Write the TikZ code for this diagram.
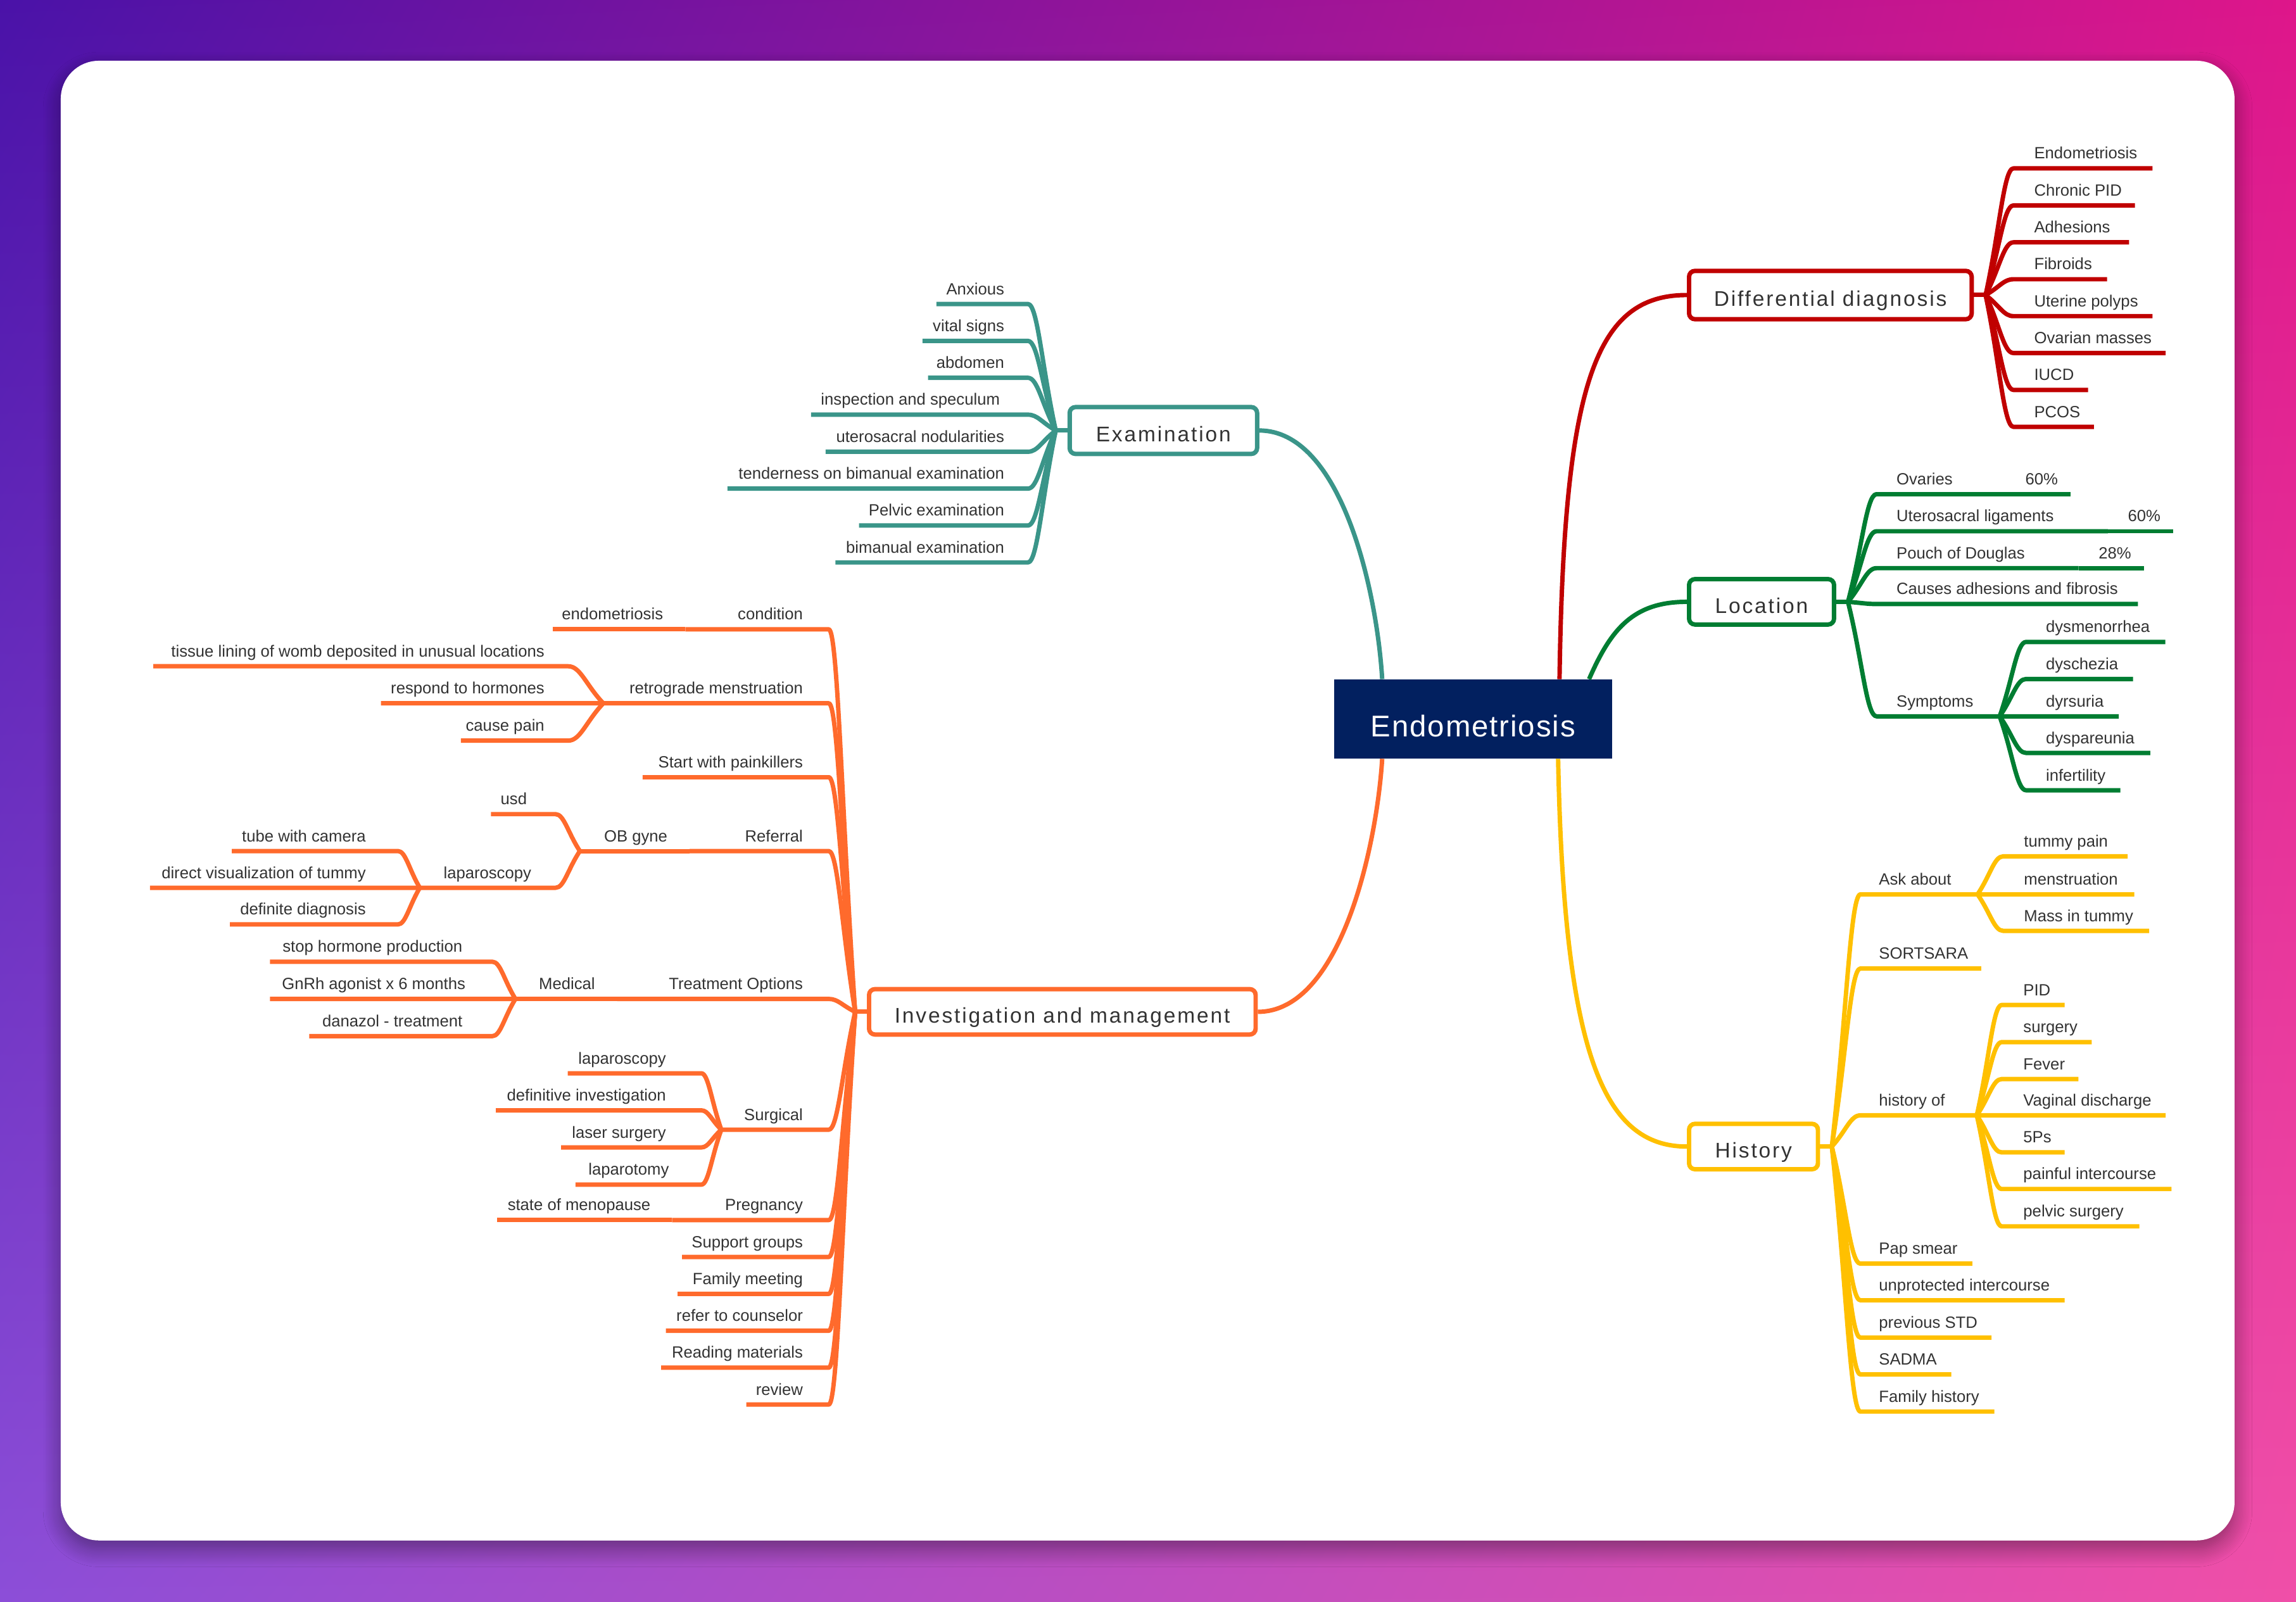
\documentclass[tikz,border=0pt]{standalone}
\usepackage{fontspec}
\setmainfont{Liberation Sans}
\newfontfamily\brfont[LetterSpace=8.5]{Liberation Sans}
\newfontfamily\rootfont[LetterSpace=4]{Liberation Sans}
\usetikzlibrary{calc,shadings,shadows.blur}
\definecolor{cteal}{HTML}{3A9589}
\definecolor{cred}{HTML}{C00000}
\definecolor{cgreen}{HTML}{007D32}
\definecolor{cyel}{HTML}{FFC000}
\definecolor{corg}{HTML}{FF6A2C}
\definecolor{cnavy}{HTML}{02205F}
\definecolor{ctext}{HTML}{333333}
\definecolor{bgUL}{HTML}{4A12A8}
\definecolor{bgUR}{HTML}{DE168A}
\definecolor{bgLL}{HTML}{8C4ED8}
\definecolor{bgLR}{HTML}{F04FA8}
\newcommand\rleaf[8]{%
  \coordinate (#1C) at (#4,#5);
  \coordinate (#1E) at (#6,#5);
  \node[leaf,anchor=base west] (#1) at (#7,#5-6.5) {#8};
  \draw[#2] (#3) to[branch] (#1C) -- (#1E);
}
\newcommand\lleaf[8]{%
  \coordinate (#1C) at (#4,#5);
  \coordinate (#1E) at (#6,#5);
  \node[leaf,anchor=base east] (#1) at (#7,#5-6.5) {#8};
  \draw[#2] (#3) to[branch] (#1C) -- (#1E);
}
\begin{document}
\begin{tikzpicture}[x=1pt,y=-1pt,
  leaf/.style={inner sep=0pt,font=\fontsize{11.1}{13}\selectfont,text=ctext},
  mainbox/.style={line width=3,rounded corners=4,fill=white,inner sep=0pt,
    text height=15.4pt,text depth=0pt,
    font=\brfont\fontsize{14.5}{17}\selectfont,text=ctext},
  conn/.style={line width=3,line join=round},
  lteal/.style={conn,cteal},
  lred/.style={conn,cred},
  lgreen/.style={conn,cgreen},
  lyel/.style={conn,cyel},
  lorg/.style={conn,corg},
  branch/.style={to path={.. controls ($(\tikztostart)!0.5!(\tikztotarget)$) and ($(\tikztotarget)!0.35!(\tikztotarget-|\tikztostart)$) .. (\tikztotarget) \tikztonodes}}]
\useasboundingbox (0,0) rectangle (1568,1094);
\shade[upper left=bgUL,upper right=bgUR,lower left=bgLL,lower right=bgLR] (0,0) rectangle (1568,1094);
\fill[white,rounded corners=26,blur shadow={shadow blur steps=12,shadow xshift=0pt,shadow yshift=-6pt,shadow blur radius=12pt,shadow opacity=40}] (41.5,41.5) rectangle (1526,1052);

% root and main boxes
\node[fill=cnavy,minimum width=190,minimum height=54,inner sep=0pt,text=white,
  text height=24pt,text depth=0pt,
  font=\rootfont\fontsize{20.5}{24}\selectfont] (root) at (1006,491) {Endometriosis};
\node[mainbox,draw=cteal,minimum width=128,minimum height=32] (ex) at (794.5,294) {Examination};
\node[mainbox,draw=corg,minimum width=264,minimum height=31] (inv) at (725.5,691) {Investigation and management};
\node[mainbox,draw=cred,minimum width=193,minimum height=33] (dd) at (1250,201.5) {Differential diagnosis};
\node[mainbox,draw=cgreen,minimum width=99,minimum height=31] (loc) at (1203,411) {Location};
\node[mainbox,draw=cyel,minimum width=88,minimum height=31] (his) at (1197.5,783) {History};

\draw[lteal] (ex.east) .. controls (915,294) and (940,400) .. ($(root.north west)!0.174!(root.north east)$);
\draw[lorg] (inv.east) .. controls (915,691) and (940,580) .. ($(root.south west)!0.174!(root.south east)$);
\draw[lred] ($(root.north west)!0.81!(root.north east)$) .. controls (1068,260) and (1090,201.5) .. (dd.west);
\draw[lgreen] ($(root.north west)!0.916!(root.north east)$) .. controls (1100,430) and (1115,411) .. (loc.west);
\draw[lyel] ($(root.south west)!0.805!(root.south east)$) .. controls (1068,720) and (1095,783) .. (his.west);

\coordinate (Jex) at (721,294);
\coordinate (Jinv) at (584,691);
\coordinate (Jdd) at (1356,201.5);
\coordinate (Jloc) at (1262,411);
\coordinate (Jhis) at (1251,783);
\draw[lteal] (ex.west) -- (Jex);
\draw[lorg] (inv.west) -- (Jinv);
\draw[lred] (dd.east) -- (Jdd);
\draw[lgreen] (loc.east) -- (Jloc);
\draw[lyel] (his.east) -- (Jhis);

% Examination
\lleaf{ea}{lteal}{Jex}{702}{207.6}{639.5}{686}{Anxious}
\lleaf{eb}{lteal}{Jex}{702}{232.8}{630}{686}{vital signs}
\lleaf{ec}{lteal}{Jex}{702}{258}{633.8}{686}{abdomen}
\lleaf{ed}{lteal}{Jex}{702}{283.2}{553.9}{683}{inspection and speculum}
\lleaf{ee}{lteal}{Jex}{702}{308.5}{563.8}{686}{uterosacral nodularities}
\lleaf{ef}{lteal}{Jex}{702}{333.7}{496.8}{686}{tenderness on bimanual examination}
\lleaf{eg}{lteal}{Jex}{702}{358.9}{586.6}{686}{Pelvic examination}
\lleaf{eh}{lteal}{Jex}{702}{384.1}{570.5}{686}{bimanual examination}

% Differential diagnosis
\rleaf{da}{lred}{Jdd}{1375}{115}{1470}{1389}{Endometriosis}
\rleaf{db}{lred}{Jdd}{1375}{140.3}{1458}{1389}{Chronic PID}
\rleaf{dc}{lred}{Jdd}{1375}{165.5}{1454}{1389}{Adhesions}
\rleaf{dd}{lred}{Jdd}{1375}{190.7}{1439}{1389}{Fibroids}
\rleaf{de}{lred}{Jdd}{1375}{215.9}{1470}{1389}{Uterine polyps}
\rleaf{df}{lred}{Jdd}{1375}{241.1}{1479}{1389}{Ovarian masses}
\rleaf{dg}{lred}{Jdd}{1375}{266.3}{1426}{1389}{IUCD}
\rleaf{dh}{lred}{Jdd}{1375}{291.5}{1430}{1389}{PCOS}

% Location
\rleaf{la}{lgreen}{Jloc}{1281.5}{337.5}{1369.5}{1295}{Ovaries}
\rleaf{laa}{lgreen}{laE}{1372}{337.5}{1414}{1383}{60\%}
\rleaf{lb}{lgreen}{Jloc}{1281.5}{362.8}{1439.5}{1295}{Uterosacral ligaments}
\rleaf{lba}{lgreen}{lbE}{1442}{362.8}{1484}{1453}{60\%}
\rleaf{lc}{lgreen}{Jloc}{1281.5}{388}{1419.5}{1295}{Pouch of Douglas}
\rleaf{lca}{lgreen}{lcE}{1422}{388}{1464}{1433}{28\%}
\rleaf{ld}{lgreen}{Jloc}{1281.5}{412.5}{1460}{1295}{Causes adhesions and fibrosis}
\rleaf{le}{lgreen}{Jloc}{1281.5}{489.2}{1365.6}{1295}{Symptoms}
\rleaf{lea}{lgreen}{leE}{1383.6}{438.4}{1478.7}{1397}{dysmenorrhea}
\rleaf{leb}{lgreen}{leE}{1383.6}{463.7}{1456.7}{1397}{dyschezia}
\rleaf{lec}{lgreen}{leE}{1383.6}{489.2}{1447}{1397}{dyrsuria}
\rleaf{led}{lgreen}{leE}{1383.6}{514.2}{1468.5}{1397}{dyspareunia}
\rleaf{lee}{lgreen}{leE}{1383.6}{539.7}{1448}{1397}{infertility}

% History
\rleaf{ha}{lyel}{Jhis}{1270.5}{610.8}{1350.5}{1283}{Ask about}
\rleaf{haa}{lyel}{haE}{1368}{584.8}{1453}{1382}{tummy pain}
\rleaf{hab}{lyel}{haE}{1368}{610.8}{1457.5}{1382}{menstruation}
\rleaf{hac}{lyel}{haE}{1368}{635.7}{1467.7}{1382}{Mass in tummy}
\rleaf{hb}{lyel}{Jhis}{1270.5}{661.4}{1353}{1283}{SORTSARA}
\rleaf{hc}{lyel}{Jhis}{1270.5}{761.7}{1350}{1283}{history of}
\rleaf{hca}{lyel}{hcE}{1367}{686.3}{1410}{1381.6}{PID}
\rleaf{hcb}{lyel}{hcE}{1367}{711.7}{1428.5}{1381.6}{surgery}
\rleaf{hcc}{lyel}{hcE}{1367}{736.9}{1419.4}{1381.6}{Fever}
\rleaf{hcd}{lyel}{hcE}{1367}{761.7}{1479}{1381.6}{Vaginal discharge}
\rleaf{hce}{lyel}{hcE}{1367}{787}{1410}{1381.6}{5Ps}
\rleaf{hcf}{lyel}{hcE}{1367}{812}{1483}{1381.6}{painful intercourse}
\rleaf{hcg}{lyel}{hcE}{1367}{837.5}{1461}{1381.6}{pelvic surgery}
\rleaf{hd}{lyel}{Jhis}{1270.5}{863}{1347}{1283}{Pap smear}
\rleaf{he}{lyel}{Jhis}{1270.5}{888}{1410}{1283}{unprotected intercourse}
\rleaf{hf}{lyel}{Jhis}{1270.5}{913.5}{1360}{1283}{previous STD}
\rleaf{hg}{lyel}{Jhis}{1270.5}{938.6}{1332.6}{1283}{SADMA}
\rleaf{hh}{lyel}{Jhis}{1270.5}{964}{1362}{1283}{Family history}

% Investigation and management
\lleaf{ia}{lorg}{Jinv}{566}{429.8}{468}{548.5}{condition}
\lleaf{iaa}{lorg}{iaE}{466}{429.8}{377.6}{453}{endometriosis}
\lleaf{ib}{lorg}{Jinv}{566}{480.3}{412}{548.5}{retrograde menstruation}
\lleaf{iba}{lorg}{ibE}{388}{455}{104.7}{372}{tissue lining of womb deposited in unusual locations}
\lleaf{ibb}{lorg}{ibE}{388}{480.3}{260.2}{372}{respond to hormones}
\lleaf{ibc}{lorg}{ibE}{388}{505.8}{314.8}{372}{cause pain}
\lleaf{ic}{lorg}{Jinv}{566}{530.8}{438.9}{548.5}{Start with painkillers}
\lleaf{id}{lorg}{Jinv}{566}{581.2}{471}{548.5}{Referral}
\lleaf{ida}{lorg}{idE}{469}{581.2}{396}{456}{OB gyne}
\lleaf{idaa}{lorg}{idaE}{379.4}{556}{335.3}{360}{usd}
\lleaf{idab}{lorg}{idaE}{379.4}{606.3}{286.7}{363}{laparoscopy}
\lleaf{idaba}{lorg}{idabE}{271.8}{581.2}{158.3}{250}{tube with camera}
\lleaf{idabb}{lorg}{idabE}{271.8}{606.3}{102.4}{250}{direct visualization of tummy}
\lleaf{idabc}{lorg}{idabE}{271.8}{631.3}{157}{250}{definite diagnosis}
\lleaf{ie}{lorg}{Jinv}{566}{682.2}{421.5}{548.5}{Treatment Options}
\lleaf{iea}{lorg}{ieE}{419.5}{682.2}{352}{406.5}{Medical}
\lleaf{ieaa}{lorg}{ieaE}{336.3}{656.8}{184.4}{316}{stop hormone production}
\lleaf{ieab}{lorg}{ieaE}{336.3}{682.2}{184.4}{318}{GnRh agonist x 6 months}
\lleaf{ieac}{lorg}{ieaE}{336.3}{707.6}{211.2}{316}{danazol - treatment}
\lleaf{if}{lorg}{Jinv}{566}{771.5}{492.6}{548.5}{Surgical}
\lleaf{ifa}{lorg}{ifE}{479}{733}{387.7}{455}{laparoscopy}
\lleaf{ifb}{lorg}{ifE}{479}{758.3}{338.6}{455}{definitive investigation}
\lleaf{ifc}{lorg}{ifE}{479}{783.6}{383.2}{455}{laser surgery}
\lleaf{ifd}{lorg}{ifE}{479}{809}{393}{457}{laparotomy}
\lleaf{ig}{lorg}{Jinv}{566}{833.2}{459}{548.5}{Pregnancy}
\lleaf{iga}{lorg}{igE}{457}{833.2}{339.5}{444.4}{state of menopause}
\lleaf{ih}{lorg}{Jinv}{566}{858.4}{465.8}{548.5}{Support groups}
\lleaf{ii}{lorg}{Jinv}{566}{883.6}{462.7}{548.5}{Family meeting}
\lleaf{ij}{lorg}{Jinv}{566}{908.8}{454.7}{548.5}{refer to counselor}
\lleaf{ik}{lorg}{Jinv}{566}{934}{451.5}{548.5}{Reading materials}
\lleaf{il}{lorg}{Jinv}{566}{959.2}{509.7}{548.5}{review}
\end{tikzpicture}
\end{document}
